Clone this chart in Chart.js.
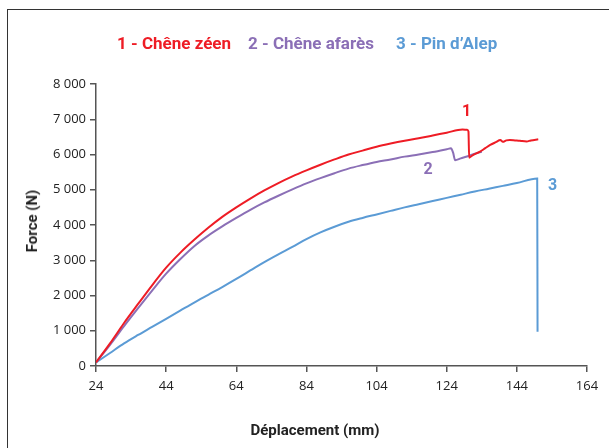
<!DOCTYPE html>
<html>
<head>
<meta charset="utf-8">
<script src="https://cdn.jsdelivr.net/npm/chart.js@4.4.1/dist/chart.umd.min.js"></script>
<style>
  html, body { margin: 0; padding: 0; background: #fff; }
  #wrap { position: relative; width: 609px; height: 448px; overflow: hidden; background: #fff; }
  #frame { position: absolute; left: 7px; top: 9px; width: 700px; height: 500px;
           border-left: 1.5px solid #333; border-top: 1.5px solid #333; }
  canvas { position: absolute; left: 0; top: 0; }
  .t { position: absolute; font-family: "Roboto", sans-serif; font-weight: bold; white-space: nowrap; }
  #legend { left: 0; width: 609px; top: 33px; text-align: left; font-size: 17px; }
  #legend span { position: absolute; }
  #ytitle { left: 32px; top: 221px; font-size: 15px; color: #222; transform: translate(-50%, -50%) rotate(-90deg); }
  #xtitle { left: 315px; top: 430px; font-size: 15px; color: #222; transform: translate(-50%, -50%); }
</style>
</head>
<body>
<div id="wrap">
  <div id="frame"></div>
  <canvas id="c" width="609" height="448"></canvas>
  <div id="legend" class="t">
    <span style="left:117px;color:#ee1c25">1 - Chêne zéen</span>
    <span style="left:248px;color:#8b6fb6">2 - Chêne afarès</span>
    <span style="left:396px;color:#5b9bd5">3 - Pin d’Alep</span>
  </div>
  <div id="ytitle" class="t">Force (N)</div>
  <div id="xtitle" class="t">Déplacement (mm)</div>
</div>
<script>
// Series names
const seriesNames = ["1 - Chêne zéen", "2 - Chêne afarès", "3 - Pin d’Alep"];

// Series 1 - Chêne zéen (displacement mm, force N)
const zeenX = [24, 28, 32, 36, 40, 44, 48, 52, 56, 60, 64, 68, 72, 76, 80, 84, 88, 92, 96, 100, 104, 108, 112, 116, 120, 124, 128.5, 129.8, 130.2, 130.4, 131, 132, 133.5, 135, 136.4, 138, 139.3, 140, 141, 142, 143.5, 144.9, 145.5, 146.8, 148, 150.1];
const zeenY = [100, 640, 1220, 1760, 2290, 2790, 3210, 3580, 3920, 4230, 4500, 4750, 4980, 5190, 5380, 5550, 5710, 5860, 6000, 6110, 6220, 6310, 6390, 6460, 6540, 6620, 6710, 6700, 6650, 5910, 5950, 6010, 6080, 6180, 6270, 6350, 6410, 6360, 6400, 6410, 6400, 6390, 6380, 6370, 6400, 6430];

// Series 2 - Chêne afarès
const afaresX = [24, 28, 32, 36, 40, 44, 48, 52, 56, 60, 64, 68, 72, 76, 80, 84, 88, 92, 96, 100, 104, 108, 112, 116, 120, 124, 125.2, 125.8, 126.4, 128, 130, 132, 134];
const afaresY = [100, 600, 1130, 1640, 2140, 2620, 3030, 3400, 3700, 3960, 4200, 4430, 4640, 4830, 5010, 5180, 5330, 5470, 5600, 5700, 5790, 5860, 5940, 6000, 6070, 6150, 6175, 6060, 5840, 5890, 5950, 6020, 6080];

// Series 3 - Pin d'Alep
const alepX = [24, 28, 32, 36, 40, 44, 48, 52, 56, 60, 64, 68, 72, 76, 80, 84, 88, 92, 96, 100, 104, 108, 112, 116, 120, 124, 128, 132, 136, 140, 144, 149.8, 149.9];
const alepY = [100, 370, 640, 880, 1110, 1340, 1570, 1800, 2020, 2240, 2470, 2710, 2950, 3170, 3380, 3600, 3790, 3950, 4090, 4200, 4300, 4400, 4500, 4590, 4680, 4770, 4860, 4950, 5030, 5110, 5190, 5320, 975];

// Axis ticks
const xTicks = [24, 44, 64, 84, 104, 124, 144, 164];
const yTicks = [0, 1000, 2000, 3000, 4000, 5000, 6000, 7000, 8000];

// Curve labels (data coordinates)
const curveLabels = ["1", "2", "3"];
const curveLabelX = [129.7, 118.7, 154.2];
const curveLabelY = [7200, 5560, 5110];

const colors = ["#ee1c25", "#8b6fb6", "#5b9bd5"];

function pts(xs, ys) { return xs.map((x, i) => ({ x: x, y: ys[i] })); }

const labelPlugin = {
  id: 'curveLabels',
  afterDatasetsDraw(chart) {
    const ctx = chart.ctx;
    const xs = chart.scales.x, ys = chart.scales.y;
    ctx.save();
    ctx.font = 'bold 16px "Roboto", sans-serif';
    ctx.textAlign = 'center';
    ctx.textBaseline = 'middle';
    curveLabels.forEach((t, i) => {
      ctx.fillStyle = colors[i];
      ctx.fillText(t, xs.getPixelForValue(curveLabelX[i]), ys.getPixelForValue(curveLabelY[i]));
    });
    ctx.restore();
  }
};

const axisColor = '#555';
const tickFont = { family: '"Open Sans", "DejaVu Sans", sans-serif', size: 13 };

function ds(i, xs, ys) {
  return { label: seriesNames[i], data: pts(xs, ys), borderColor: colors[i], borderWidth: 2,
           pointRadius: 0, cubicInterpolationMode: 'monotone', fill: false };
}

new Chart(document.getElementById('c'), {
  type: 'line',
  data: { datasets: [ ds(0, zeenX, zeenY), ds(1, afaresX, afaresY), ds(2, alepX, alepY) ] },
  options: {
    responsive: false,
    animation: false,
    events: [],
    layout: { padding: { left: 0, top: 84, right: 22, bottom: 0 } },
    plugins: { legend: { display: false }, title: { display: false }, tooltip: { enabled: false } },
    scales: {
      x: {
        type: 'linear', min: 24, max: 164,
        afterBuildTicks: (s) => { s.ticks = xTicks.map(v => ({ value: v })); },
        afterFit: (s) => { s.height = 82; },
        border: { display: true, color: axisColor, width: 1.5 },
        grid: { drawOnChartArea: false, drawTicks: true, tickLength: 6, color: axisColor, lineWidth: 1.5 },
        ticks: { color: '#222', font: tickFont, padding: 6, maxRotation: 0, autoSkip: false }
      },
      y: {
        type: 'linear', min: 0, max: 8000,
        afterBuildTicks: (s) => { s.ticks = yTicks.map(v => ({ value: v })); },
        afterFit: (s) => { s.width = 96; },
        border: { display: true, color: axisColor, width: 1.5 },
        grid: { drawOnChartArea: false, drawTicks: true, tickLength: 6, color: axisColor, lineWidth: 1.5 },
        ticks: {
          color: '#222', font: tickFont, padding: 4, autoSkip: false,
          callback: (v) => String(v).replace(/\B(?=(\d{3})+(?!\d))/g, ' ')
        }
      }
    }
  },
  plugins: [labelPlugin]
});
</script>
</body>
</html>
